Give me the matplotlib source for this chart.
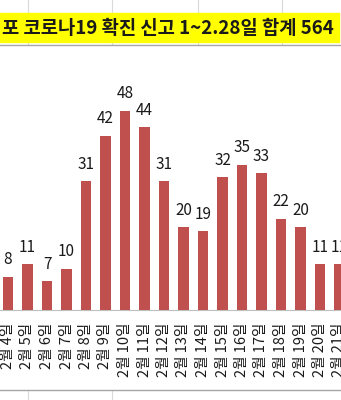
# ----------------------------------------
# Import Required Libraries
# ----------------------------------------
import matplotlib
matplotlib.use("Agg")
import matplotlib.pyplot as plt
from matplotlib.patches import Rectangle

plt.rcParams['font.family'] = ['Noto Sans CJK KR', 'DejaVu Sans']

# ----------------------------------------
# Chart Data
# ----------------------------------------
days = ["2월 4일", "2월 5일", "2월 6일", "2월 7일", "2월 8일", "2월 9일",
        "2월 10일", "2월 11일", "2월 12일", "2월 13일", "2월 14일", "2월 15일",
        "2월 16일", "2월 17일", "2월 18일", "2월 19일", "2월 20일", "2월 21일"]
cases = [8, 11, 7, 10, 31, 42, 48, 44, 31, 20, 19, 32, 35, 33, 22, 20, 11, 11]
title_text = "포 코로나19 확진 신고 1~2.28일 합계 564"

W, H = 341, 400
bar_color = "#C0504D"

fig = plt.figure(figsize=(W / 100, H / 100), dpi=100)

# ----------------------------------------
# Background layer (spreadsheet cells, title band) in pixel coords
# ----------------------------------------
bg = fig.add_axes([0, 0, 1, 1])
bg.set_xlim(0, W)
bg.set_ylim(H, 0)
bg.axis("off")

for x in [28, 112, 198, 282]:
    bg.plot([x, x], [0, 45], color="#D9D9D9", lw=0.8)
bg.plot([28, 28], [390, H], color="#D9D9D9", lw=0.8)
bg.plot([112, 112], [390, H], color="#D9D9D9", lw=0.8)
bg.plot([0, W], [45, 45], color="#A6A6A6", lw=1.0)
bg.plot([0, W], [390, 390], color="#A6A6A6", lw=1.0)

bg.add_patch(Rectangle((0, 13), 339, 29, color="#FFFF00", zorder=2))
bg.text(2, 28, title_text, fontsize=13.5, fontweight="bold", ha="left",
        va="center", color="#1A1A1A", zorder=3)

# ----------------------------------------
# Bar chart
# ----------------------------------------
step = 19.5
x0 = 8
ax = fig.add_axes([0, 90 / H, 1, 60 * 4.15 / H])
ax.patch.set_alpha(0)
idx = list(range(len(cases)))
bars = ax.bar(idx, cases, width=0.52, color=bar_color, zorder=3)
ax.set_xlim(-x0 / step, (W - x0) / step)
ax.set_ylim(0, 60)

for b, v in zip(bars, cases):
    ax.annotate(str(v), (b.get_x() + b.get_width() / 2, v),
                xytext=(0, 6), textcoords="offset points",
                ha="center", va="bottom", fontsize=11, color="#1A1A1A")

ax.set_xticks(idx)
ax.set_xticklabels(days, rotation=90, fontsize=10.5, color="#1A1A1A")
ax.tick_params(axis="x", length=0, pad=9)
ax.set_yticks([])
for s in ["top", "right", "left"]:
    ax.spines[s].set_visible(False)
ax.spines["bottom"].set_color("#BFBFBF")

fig.savefig("out.png", dpi=100)
